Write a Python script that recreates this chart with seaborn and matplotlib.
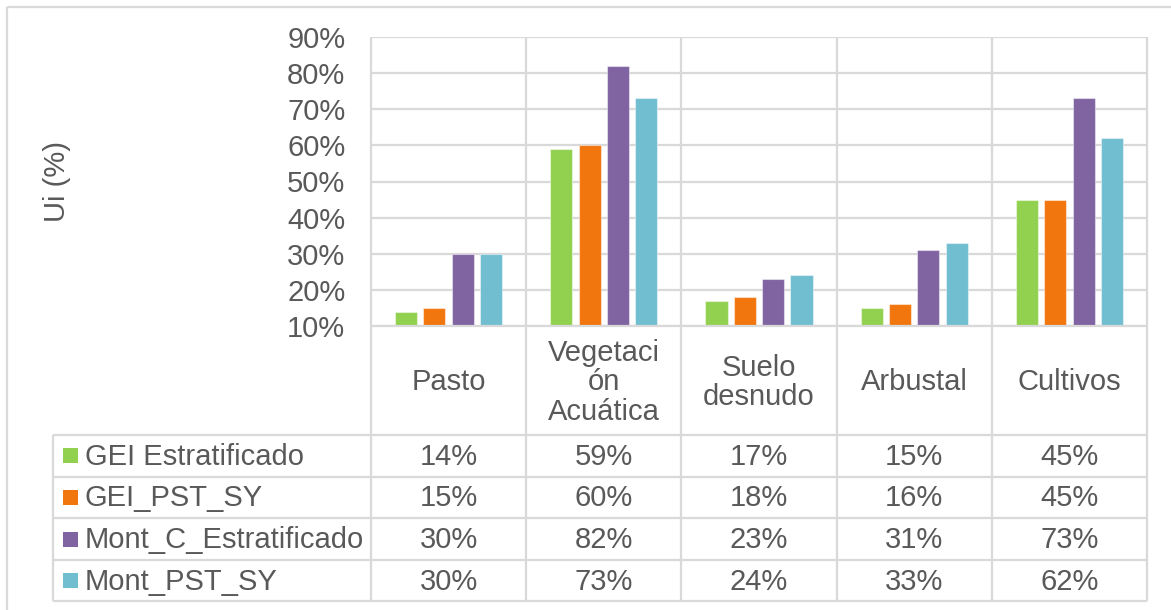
import numpy as np
import pandas as pd
import matplotlib
matplotlib.use("Agg")
import matplotlib.pyplot as plt
from matplotlib.lines import Line2D
from matplotlib.patches import Rectangle
from matplotlib.ticker import PercentFormatter, FixedLocator
import seaborn as sns

# ---- data -------------------------------------------------------------
categories = ["Pasto", "Vegetación Acuática", "Suelo desnudo", "Arbustal", "Cultivos"]
category_labels = ["Pasto", "Vegetaci\nón\nAcuática", "Suelo\ndesnudo", "Arbustal", "Cultivos"]
series_names = ["GEI Estratificado", "GEI_PST_SY", "Mont_C_Estratificado", "Mont_PST_SY"]

gei_estratificado = [0.14, 0.59, 0.17, 0.15, 0.45]
gei_pst_sy = [0.15, 0.60, 0.18, 0.16, 0.45]
mont_c_estratificado = [0.30, 0.82, 0.23, 0.31, 0.73]
mont_pst_sy = [0.30, 0.73, 0.24, 0.33, 0.62]

y_ticks = [0.1, 0.2, 0.3, 0.4, 0.5, 0.6, 0.7, 0.8, 0.9]
y_label = "Ui (%)"

colors = ["#92D050", "#F2760E", "#8064A2", "#72BED1"]

series_values = [gei_estratificado, gei_pst_sy, mont_c_estratificado, mont_pst_sy]
df = pd.DataFrame(
    [(cat, name, v)
     for name, vals in zip(series_names, series_values)
     for cat, v in zip(categories, vals)],
    columns=["Categoría", "Serie", "Ui"],
)

# ---- style ------------------------------------------------------------
sns.set_style("white")
plt.rcParams["font.family"] = ["Liberation Sans", "DejaVu Sans"]
TEXT = "#595959"
GRID = "#D9D9D9"
FS = 21
LW = 1.6

W, H = 1171, 610
fig = plt.figure(figsize=(W / 100, H / 100), dpi=100)
fig.patch.set_facecolor("white")

# plot area (pixel box converted to figure fractions)
px_left, px_right, px_top, px_bottom = 371, 1147, 37, 326
ax = fig.add_axes([px_left / W, 1 - px_bottom / H,
                   (px_right - px_left) / W, (px_bottom - px_top) / H])

sns.barplot(data=df, x="Categoría", y="Ui", hue="Serie",
            order=categories, hue_order=series_names,
            palette=colors, saturation=1, width=0.73, gap=0.22,
            errorbar=None, legend=False, ax=ax,
            edgecolor=(1, 1, 1, 0.45), linewidth=0.8)

ax.set_xlim(-0.5, len(categories) - 0.5)
ax.set_ylim(y_ticks[0], y_ticks[-1])
ax.yaxis.set_major_locator(FixedLocator(y_ticks))
ax.yaxis.set_major_formatter(PercentFormatter(1.0, decimals=0))
ax.tick_params(axis="y", length=0, pad=18.5, labelsize=FS, labelcolor=TEXT)
ax.tick_params(axis="x", length=0, labelbottom=False)
ax.set_xlabel("")
ax.set_ylabel(y_label, fontsize=FS, color=TEXT)
ax.yaxis.set_label_coords(-0.386, 0.5)
ax.yaxis.grid(True, color=GRID, lw=LW)
ax.set_axisbelow(True)
for s in ax.spines.values():
    s.set_visible(False)

# ---- data table and frame, drawn in pixel space -----------------------
ov = fig.add_axes([0, 0, 1, 1])
ov.set_xlim(0, W)
ov.set_ylim(H, 0)
ov.axis("off")


def to_px(xdata):
    return ax.transData.transform((xdata, 0.5))[0]


def hline(x0, x1, y):
    ov.add_line(Line2D([x0, x1], [y, y], color=GRID, lw=LW, solid_capstyle="butt"))


def vline(x, y0, y1):
    ov.add_line(Line2D([x, x], [y0, y1], color=GRID, lw=LW, solid_capstyle="butt"))


n = len(categories)
bounds = [to_px(i - 0.5) for i in range(n + 1)]
centers = [to_px(i) for i in range(n)]

header_h = 109
row_h = 41.6
legend_left = 53
table_top = px_bottom
rows_top = table_top + header_h
table_bottom = rows_top + row_h * len(series_names)

# outer chart frame
hline(7, W, 7)
vline(7, 7, H)

# category boundaries from plot top through the table
for b in bounds:
    vline(b, px_top, table_bottom)
vline(legend_left, rows_top, table_bottom)
hline(bounds[0], bounds[-1], table_top)
for r in range(len(series_names) + 1):
    hline(legend_left, bounds[-1], rows_top + r * row_h)

# category names
for cx, lab in zip(centers, category_labels):
    ov.text(cx, table_top + header_h / 2 + 2, lab, ha="center", va="center",
            fontsize=FS, color=TEXT, linespacing=1.08)

# series rows: legend key, name, values
for r, (name, vals, col) in enumerate(zip(series_names, series_values, colors)):
    cy = rows_top + (r + 0.5) * row_h
    ov.add_patch(Rectangle((63, cy - 7.5), 15, 15, facecolor=col, edgecolor="none"))
    ov.text(85, cy + 1, name, ha="left", va="center", fontsize=FS, color=TEXT)
    for cx, v in zip(centers, vals):
        ov.text(cx, cy + 1, f"{round(v * 100):d}%", ha="center", va="center",
                fontsize=FS, color=TEXT)

fig.savefig("out.png", dpi=100, facecolor="white")
